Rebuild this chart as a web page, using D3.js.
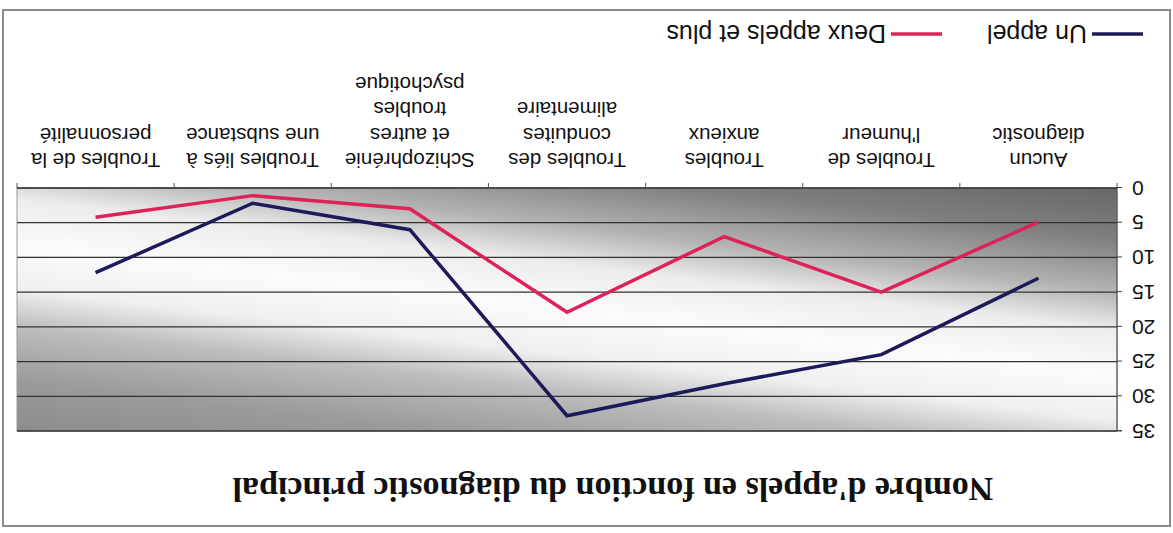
<!DOCTYPE html>
<html lang="fr">
<head>
	<meta charset="UTF-8">
	<title>Nombre d'appels</title>
	<script src="https://cdn.jsdelivr.net/npm/d3@7"></script>
	<style>
		body {
			margin: 0;
			background-color: #ffffff;
		}
		.axisY path, .axisY line {
			stroke: #444;
		}
		.axisY text {
			font-family: "Liberation Sans", Arial, sans-serif;
			font-size: 21px;
			fill: #111;
		}
		.cat {
			font-family: "Liberation Sans", Arial, sans-serif;
			font-size: 20.5px;
			fill: #111;
		}
		.legend {
			font-family: "Liberation Sans", Arial, sans-serif;
			font-size: 25px;
			fill: #111;
		}
		.title {
			font-family: "Liberation Serif", "Times New Roman", serif;
			font-size: 34px;
			font-weight: bold;
			fill: #111;
		}
	</style>
</head>
<body>
<script>

	// categories as they read left to right before the page is turned over
	var categories = [
		'Aucun\ndiagnostic',
		"Troubles de\nl'humeur",
		'Troubles\nanxieux',
		'Troubles des\nconduites\nalimentaire',
		'Schizophrénie\net autres\ntroubles\npsychotique',
		'Troubles liés à\nune substance',
		'Troubles de la\npersonnalité'
	];
	var unAppel = [13.0, 24.0, 28.2, 32.8, 6.0, 2.2, 12.2];
	var deuxAppels = [4.9, 15.0, 7.0, 17.9, 3.0, 1.1, 4.2];
	var seriesNames = ['Un appel', 'Deux appels et plus'];
	var seriesColors = ['#1c1a58', '#dc2258'];
	var yTicks = [0, 5, 10, 15, 20, 25, 30, 35];
	var titleText = "Nombre d'appels en fonction du diagnostic principal";

	var W = 1173, H = 533;
	var margin = {top: 102, bottom: 188, left: 56, right: 17};
	var width = W - margin.left - margin.right,
			height = H - margin.top - margin.bottom;

	var svg = d3.select('body').append('svg')
		.attr('width', W)
		.attr('height', H);

	// the scanned chart is upside down, so the whole drawing is turned 180 degrees
	var root = svg.append('g')
		.attr('transform', 'rotate(180,' + (W / 2) + ',' + (H / 2) + ')');

	root.append('rect')
		.attr('x', 3).attr('y', 7)
		.attr('width', W - 6).attr('height', H - 17)
		.attr('fill', '#fff')
		.attr('stroke', '#8a8a8a')
		.attr('stroke-width', 2);

	var defs = svg.append('defs');
	var grad = defs.append('linearGradient')
		.attr('id', 'plotbg')
		.attr('x1', 0.176).attr('y1', 1.1)
		.attr('x2', 0.824).attr('y2', -0.1);
	[[0, '#676767'], [0.14, '#7f7f7f'], [0.28, '#b4b4b4'], [0.38, '#ececec'],
	 [0.5, '#fbfbfb'], [0.62, '#efefef'], [0.72, '#bdbdbd'], [0.86, '#9b9b9b'], [1, '#8c8c8c']]
		.forEach(function (s) {
			grad.append('stop').attr('offset', s[0]).attr('stop-color', s[1]);
		});

	var g = root.append('g')
		.attr('transform', 'translate(' + margin.left + ',' + margin.top + ')');

	var x = d3.scaleBand()
		.domain(categories)
		.range([0, width]);

	var y = d3.scaleLinear()
		.domain([0, 35])
		.range([height, 0]);

	g.append('rect')
		.attr('width', width)
		.attr('height', height)
		.attr('fill', 'url(#plotbg)')
		.attr('stroke', '#9a9a9a');

	g.selectAll('.grid')
		.data(yTicks)
		.enter()
		.append('line')
		.attr('class', 'grid')
		.attr('x1', 0)
		.attr('x2', width)
		.attr('y1', function (d) { return y(d); })
		.attr('y2', function (d) { return y(d); })
		.attr('stroke', '#333')
		.attr('stroke-width', 1.3);

	g.append('g')
		.attr('class', 'axisY')
		.call(d3.axisLeft(y).tickValues(yTicks).tickSize(5).tickPadding(10))
		.call(function (a) { a.select('.domain').attr('d', 'M-5,0H0V' + height); });

	// category axis: line along zero and ticks between the categories
	g.append('line')
		.attr('x1', 0).attr('x2', width)
		.attr('y1', height).attr('y2', height)
		.attr('stroke', '#444')
		.attr('stroke-width', 1.2);

	g.selectAll('.xtick')
		.data(categories.concat(['end']))
		.enter()
		.append('line')
		.attr('class', 'xtick')
		.attr('x1', function (d) { return d === 'end' ? width : x(d); })
		.attr('x2', function (d) { return d === 'end' ? width : x(d); })
		.attr('y1', height)
		.attr('y2', height + 5)
		.attr('stroke', '#555');

	var labels = g.selectAll('.cat')
		.data(categories)
		.enter()
		.append('text')
		.attr('class', 'cat')
		.attr('text-anchor', 'middle')
		.attr('transform', function (d) {
			return 'translate(' + (x(d) + x.bandwidth() / 2) + ',' + (height + 35) + ')';
		});

	labels.selectAll('tspan')
		.data(function (d) { return d.split('\n'); })
		.enter()
		.append('tspan')
		.attr('x', 0)
		.attr('y', function (d, i) { return i * 25.5; })
		.text(function (d) { return d; });

	var line = d3.line()
		.x(function (d, i) { return x(categories[i]) + x.bandwidth() / 2; })
		.y(function (d) { return y(d); });

	[unAppel, deuxAppels].forEach(function (values, k) {
		g.append('path')
			.datum(values)
			.attr('fill', 'none')
			.attr('stroke', seriesColors[k])
			.attr('stroke-width', 3.5)
			.attr('stroke-linejoin', 'miter')
			.attr('d', line);
	});

	root.append('text')
		.attr('class', 'title')
		.attr('x', 560)
		.attr('y', 55)
		.attr('text-anchor', 'middle')
		.text(titleText);

	var legendX = [30, 231];
	var legend = root.selectAll('.legendItem')
		.data(seriesNames)
		.enter()
		.append('g')
		.attr('class', 'legendItem')
		.attr('transform', function (d, i) {
			return 'translate(' + legendX[i] + ',499)';
		});

	legend.append('line')
		.attr('x1', 0).attr('x2', 51)
		.attr('stroke', function (d, i) { return seriesColors[i]; })
		.attr('stroke-width', 3.5);

	legend.append('text')
		.attr('class', 'legend')
		.attr('x', 56)
		.attr('y', 9)
		.text(function (d) { return d; });

</script>
</body>
</html>
